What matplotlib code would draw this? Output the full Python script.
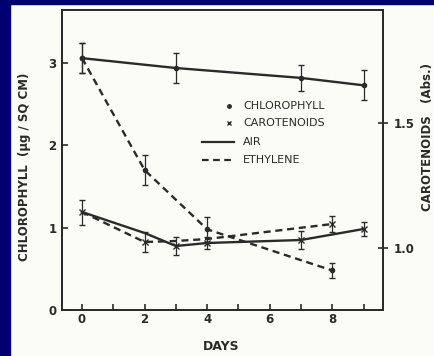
import numpy as np
import matplotlib
matplotlib.use('Agg')
import matplotlib.pyplot as plt
from matplotlib.patches import Rectangle

# chlorophyll (ug / sq cm), left axis
chl_air_days = [0, 3, 7, 9]
chl_air_vals = [3.06, 2.94, 2.82, 2.73]
chl_air_err = [0.18, 0.18, 0.16, 0.18]

chl_eth_days = [0, 2, 4, 8]
chl_eth_vals = [3.06, 1.70, 0.98, 0.48]
chl_eth_err = [0.18, 0.18, 0.15, 0.09]

# carotenoids (Abs.), right axis -- err 0 means no bar / marker drawn
car_air_days = [0, 2, 3, 4, 7, 9]
car_air_vals = [1.144, 1.06, 1.008, 1.02, 1.032, 1.076]
car_air_err = [0.05, 0, 0.035, 0.025, 0.035, 0.028]

car_eth_days = [0, 2, 3, 4, 8]
car_eth_vals = [1.144, 1.024, 1.028, 1.036, 1.096]
car_eth_err = [0, 0.04, 0, 0, 0.032]

x_ticks = [0, 2, 4, 6, 8]
left_ticks = [0, 1, 2, 3]
right_ticks = [1.0, 1.5]

ink = '#2a2a2a'
dash = (0, (3, 2))

fig = plt.figure(figsize=(4.35, 3.56), dpi=100)
fig.patch.set_facecolor('#fcfcf7')
# navy frame at top and left
fig.patches.append(Rectangle((0, 0), 10/435, 1, transform=fig.transFigure,
                             color='#000070', zorder=0))
fig.patches.append(Rectangle((0, 1 - 4/356), 1, 4/356, transform=fig.transFigure,
                             color='#000070', zorder=0))

ax = fig.add_axes([62/435, 1 - 310/356, 321/435, 300/356])
ax.set_facecolor('none')
ax2 = ax.twinx()

ax.set_xlim(-0.64, 9.62)
ax.set_ylim(0, 3.645)
ax2.set_ylim(0.752, 1.952)


def draw(a, days, vals, errs, style, marker, ms):
    a.plot(days, vals, color=ink, lw=1.7, linestyle=style)
    d = np.array(days)
    v = np.array(vals)
    e = np.array(errs)
    m = e > 0
    a.errorbar(d[m], v[m], yerr=e[m], fmt=marker, color=ink, ms=ms,
               mew=1.0, elinewidth=0.9, capsize=2.5, capthick=0.9)


draw(ax, chl_air_days, chl_air_vals, chl_air_err, '-', 'o', 3)
draw(ax, chl_eth_days, chl_eth_vals, chl_eth_err, dash, 'o', 3)
draw(ax2, car_air_days, car_air_vals, car_air_err, '-', 'x', 4)
draw(ax2, car_eth_days, car_eth_vals, car_eth_err, dash, 'x', 4)

for a in (ax, ax2):
    for s in a.spines.values():
        s.set_color(ink)
        s.set_linewidth(1.3)

ax.set_xticks(range(0, 10))
ax.set_xticklabels([str(t) if t in x_ticks else '' for t in range(0, 10)])
ax.set_yticks(left_ticks)
ax.tick_params(axis='both', direction='in', length=4, width=1.2, color=ink,
               labelcolor=ink, labelsize=8.5, pad=4)
ax.tick_params(axis='x', pad=2)
ax2.set_yticks(right_ticks)
ax2.set_yticklabels(['1.5' if t == 1.5 else '1.0' for t in right_ticks])
ax2.tick_params(axis='y', direction='inout', length=7, width=1.2, color=ink,
                labelcolor=ink, labelsize=8.5, pad=4)
for lab in ax.get_xticklabels() + ax.get_yticklabels() + ax2.get_yticklabels():
    lab.set_fontweight('bold')

# legend drawn by hand
ax.plot([0.52], [0.68], 'o', color=ink, ms=2.5, transform=ax.transAxes)
ax.plot([0.52], [0.623], 'x', color=ink, ms=3.5, mew=1.0, transform=ax.transAxes)
ax.plot([0.436, 0.536], [0.56, 0.56], '-', color=ink, lw=1.6, transform=ax.transAxes)
ax.plot([0.436, 0.536], [0.50, 0.50], linestyle=dash, color=ink, lw=1.6,
        transform=ax.transAxes)
for yy, txt in zip([0.68, 0.623, 0.56, 0.50],
                   ['CHLOROPHYLL', 'CAROTENOIDS', 'AIR', 'ETHYLENE']):
    ax.text(0.564, yy, txt, transform=ax.transAxes, fontsize=8, color=ink,
            va='center', ha='left')

fig.text(221/435, 1 - 346/356, 'DAYS', ha='center', va='center',
         fontsize=9, fontweight='bold', color=ink)
fig.text(25/435, 1 - 167/356, 'CHLOROPHYLL  (\u03bcg / SQ CM)', rotation=90,
         ha='center', va='center', fontsize=8.5, fontweight='bold', color=ink)
fig.text(428/435, 1 - 137/356, 'CAROTENOIDS   (Abs.)', rotation=90,
         ha='center', va='center', fontsize=8.5, fontweight='bold', color=ink)

fig.savefig('out.png', dpi=100, facecolor=fig.get_facecolor())
